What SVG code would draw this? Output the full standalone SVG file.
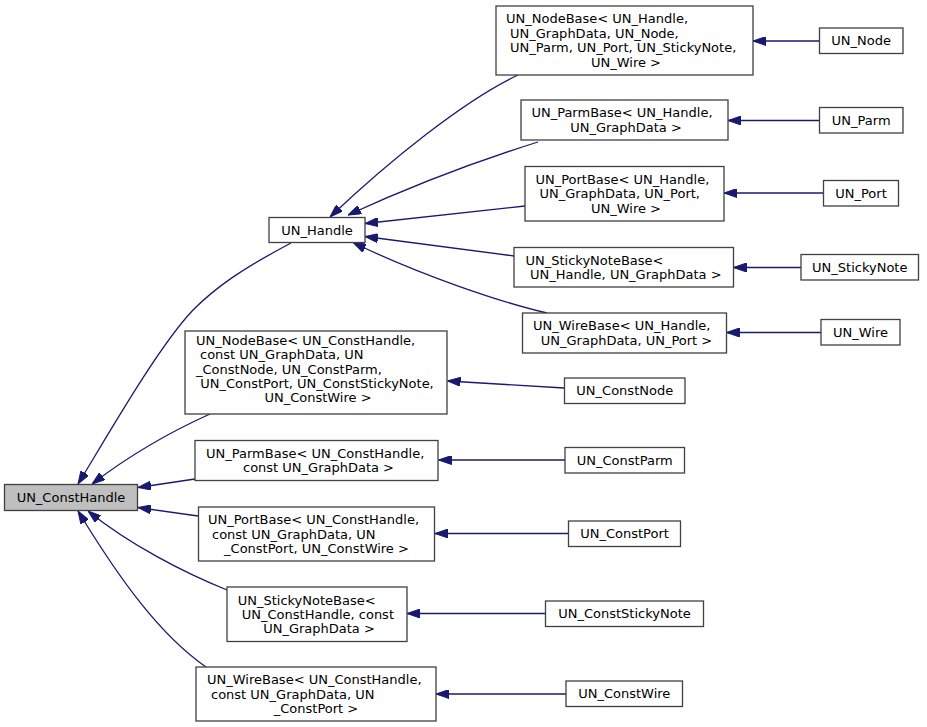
<svg xmlns="http://www.w3.org/2000/svg" width="927" height="727" viewBox="0 0 927 727">
<style>
.n rect{fill:#ffffff;stroke:#404040;stroke-width:1.3}
.n text{font-family:"DejaVu Sans","Liberation Sans",sans-serif;font-size:13px;fill:#000}
.c{text-anchor:middle}
#edges path{fill:none;stroke:#191970;stroke-width:1.3;marker-end:url(#ah)}
</style>
<defs>
<marker id="ah" markerUnits="userSpaceOnUse" viewBox="0 0 13 9" refX="13" refY="4.5" markerWidth="13" markerHeight="9" orient="auto">
<path d="M0,0 L13,4.5 L0,9 z" fill="#191970" stroke="#191970" stroke-width="1"/>
</marker>
</defs>
<rect x="0" y="0" width="927" height="727" fill="#ffffff"/>
<g id="edges">
<path d="M291,243 C240,270 215,288 193,310 C158,347 108,435 78,484"/>
<path d="M210,414 C170,432 130,455 92,484"/>
<path d="M195,479 L138,487.5"/>
<path d="M198,516 L138,507.5"/>
<path d="M227,590 C185,573 130,545 88,511"/>
<path d="M206,667 C160,635 120,580 78,511"/>
<path d="M518,75 C465,100 390,160 330,217"/>
<path d="M538,142 C490,157 420,182 348,215"/>
<path d="M525,206 L365,223.5"/>
<path d="M514,256 L365,236.5"/>
<path d="M547,313 C500,302 420,275 353,242.5"/>
<path d="M819,41 L753,41"/>
<path d="M819,120.5 L728,120.5"/>
<path d="M823,193 L724,193"/>
<path d="M801,267.5 L733.5,267.5"/>
<path d="M821,332.5 L726.5,332.5"/>
<path d="M564,388 L447.5,381"/>
<path d="M565,460 L438.5,460"/>
<path d="M568,533.5 L435,533.5"/>
<path d="M545,613.5 L407,613.5"/>
<path d="M566,694 L436,694"/>
</g>
<g id="UN_ConstHandle" class="n"><rect x="4.5" y="484.5" width="133" height="26" style="fill:#bfbfbf"/><text class="c" x="71" y="502">UN_ConstHandle</text></g>
<g id="UN_Handle" class="n"><rect x="269" y="217.5" width="96" height="25"/><text class="c" x="317" y="234.5">UN_Handle</text></g>
<g id="UN_NodeBase_Handle" class="n"><rect x="496" y="6" width="257" height="69"/>
<text x="506" y="23.4">UN_NodeBase&lt; UN_Handle,</text>
<text x="510" y="37.8">UN_GraphData, UN_Node,</text>
<text x="510" y="52.2">UN_Parm, UN_Port, UN_StickyNote,</text>
<text class="c" x="626" y="66.6">UN_Wire &gt;</text></g>
<g id="UN_ParmBase_Handle" class="n"><rect x="521" y="100" width="207" height="40"/>
<text x="531.4" y="117.3">UN_ParmBase&lt; UN_Handle,</text>
<text class="c" x="626" y="131.7">UN_GraphData &gt;</text></g>
<g id="UN_PortBase_Handle" class="n"><rect x="525" y="166.5" width="199" height="54.5"/>
<text x="535.4" y="184">UN_PortBase&lt; UN_Handle,</text>
<text x="539.4" y="198.4">UN_GraphData, UN_Port,</text>
<text class="c" x="626" y="212.8">UN_Wire &gt;</text></g>
<g id="UN_StickyNoteBase_Handle" class="n"><rect x="514" y="247.5" width="219.5" height="39.5"/>
<text x="525.5" y="264.5">UN_StickyNoteBase&lt;</text>
<text class="c" x="625.8" y="278.9">UN_Handle, UN_GraphData &gt;</text></g>
<g id="UN_WireBase_Handle" class="n"><rect x="522.5" y="313" width="204" height="40"/>
<text x="533" y="330.3">UN_WireBase&lt; UN_Handle,</text>
<text class="c" x="626.5" y="344.7">UN_GraphData, UN_Port &gt;</text></g>
<g id="UN_Node" class="n"><rect x="819.5" y="28" width="83.5" height="25.5"/><text class="c" x="861.2" y="45.3">UN_Node</text></g>
<g id="UN_Parm" class="n"><rect x="819.5" y="107.5" width="83.5" height="25.5"/><text class="c" x="861.2" y="124.8">UN_Parm</text></g>
<g id="UN_Port" class="n"><rect x="823.5" y="180.5" width="75" height="25.5"/><text class="c" x="861" y="197.8">UN_Port</text></g>
<g id="UN_StickyNote" class="n"><rect x="801" y="254.5" width="117.5" height="25.5"/><text class="c" x="859.75" y="271.8">UN_StickyNote</text></g>
<g id="UN_Wire" class="n"><rect x="821" y="319.5" width="79" height="25.5"/><text class="c" x="860.5" y="336.8">UN_Wire</text></g>
<g id="UN_NodeBase_Const" class="n"><rect x="185" y="331" width="262" height="83"/>
<text x="196" y="344.7">UN_NodeBase&lt; UN_ConstHandle,</text>
<text x="200" y="359.1">const UN_GraphData, UN</text>
<text x="196" y="373.5">_ConstNode, UN_ConstParm,</text>
<text x="200.2" y="387.9">UN_ConstPort, UN_ConstStickyNote,</text>
<text class="c" x="318" y="402.3">UN_ConstWire &gt;</text></g>
<g id="UN_ParmBase_Const" class="n"><rect x="195" y="440.5" width="243" height="40"/>
<text x="206" y="457.8">UN_ParmBase&lt; UN_ConstHandle,</text>
<text class="c" x="318.5" y="472.2">const UN_GraphData &gt;</text></g>
<g id="UN_PortBase_Const" class="n"><rect x="198.5" y="507" width="236" height="54"/>
<text x="208" y="524.4">UN_PortBase&lt; UN_ConstHandle,</text>
<text x="212" y="538.8">const UN_GraphData, UN</text>
<text class="c" x="316.5" y="553.2">_ConstPort, UN_ConstWire &gt;</text></g>
<g id="UN_StickyNoteBase_Const" class="n"><rect x="227" y="587" width="180" height="54.5"/>
<text x="237.7" y="604.6">UN_StickyNoteBase&lt;</text>
<text x="241.8" y="619">UN_ConstHandle, const</text>
<text class="c" x="319" y="633.4">UN_GraphData &gt;</text></g>
<g id="UN_WireBase_Const" class="n"><rect x="196" y="667" width="240" height="54"/>
<text x="207" y="684.4">UN_WireBase&lt; UN_ConstHandle,</text>
<text x="211" y="698.8">const UN_GraphData, UN</text>
<text class="c" x="316" y="713.2">_ConstPort &gt;</text></g>
<g id="UN_ConstNode" class="n"><rect x="564.5" y="378" width="120.5" height="25.5"/><text class="c" x="624.75" y="395.3">UN_ConstNode</text></g>
<g id="UN_ConstParm" class="n"><rect x="565" y="447.5" width="119.5" height="25.5"/><text class="c" x="624.75" y="464.8">UN_ConstParm</text></g>
<g id="UN_ConstPort" class="n"><rect x="568.5" y="521" width="112" height="25.5"/><text class="c" x="624.5" y="538.3">UN_ConstPort</text></g>
<g id="UN_ConstStickyNote" class="n"><rect x="545.5" y="601" width="158" height="25.5"/><text class="c" x="624.5" y="618.3">UN_ConstStickyNote</text></g>
<g id="UN_ConstWire" class="n"><rect x="566" y="681" width="116.5" height="25.5"/><text class="c" x="624.25" y="698.3">UN_ConstWire</text></g>
</svg>
